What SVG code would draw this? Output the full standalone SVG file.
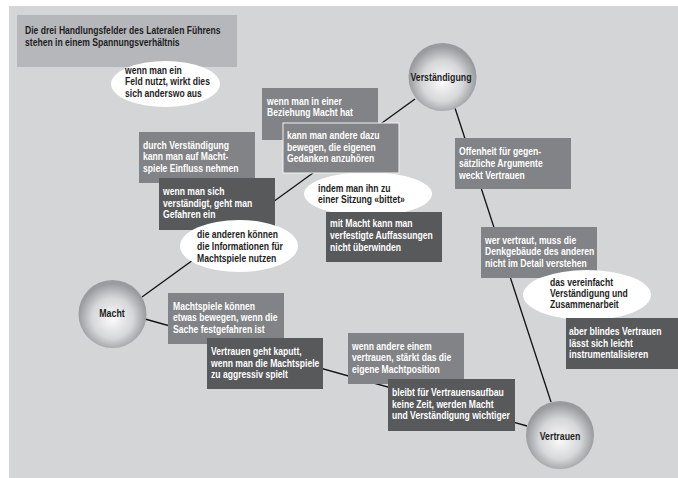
<svg xmlns="http://www.w3.org/2000/svg" width="678" height="478" viewBox="0 0 678 478">
<defs>
<radialGradient id="sph" cx="0.5" cy="0.55" r="0.5" fx="0.5" fy="0.58">
<stop offset="0" stop-color="#fafafa"/>
<stop offset="0.6" stop-color="#d6d7d9"/>
<stop offset="1" stop-color="#9a9b9e"/>
</radialGradient>
</defs>
<style>
.t{font-family:"Liberation Sans",Arial,sans-serif;font-weight:bold;font-size:10px}
.w{fill:#ffffff}
.d{fill:#1e1e1e}
.m{fill:#828386}
.k{fill:#58595b}
.e{fill:#ffffff}
.s{fill:url(#sph)}
.lbl{font-family:"Liberation Sans",Arial,sans-serif;font-weight:bold;font-size:10.5px;fill:#1e1e1e;text-anchor:middle}
.c{stroke:#111;stroke-width:1.3;fill:none}
</style>
<rect x="9" y="6" width="669" height="472" fill="#d4d5d7"/>

<g id="connectors">
<line class="c" x1="142" y1="297" x2="415" y2="99"/>
<line class="c" x1="455" y1="108" x2="551" y2="402"/>
<line class="c" x1="145" y1="319" x2="527" y2="426"/>
</g>

<g id="title">
<rect x="17" y="15" width="220" height="52" fill="#b6b7ba"/>
<text class="t d" transform="translate(25,34) scale(0.86,1)"><tspan x="0" y="0">Die drei Handlungsfelder des Lateralen Führens</tspan><tspan x="0" y="12">stehen in einem Spannungsverhältnis</tspan></text>
</g>

<g id="note-feld">
<ellipse class="e" cx="165.5" cy="84" rx="54.5" ry="23"/>
<text class="t d" transform="translate(125,74) scale(0.86,1)"><tspan x="0" y="0">wenn man ein</tspan><tspan x="0" y="11.5">Feld nutzt, wirkt dies</tspan><tspan x="0" y="23">sich anderswo aus</tspan></text>
</g>

<g id="box-beziehung">
<rect class="m" x="262" y="88" width="116" height="52"/>
<text class="t w" transform="translate(267,105) scale(0.86,1)"><tspan x="0" y="0">wenn man in einer</tspan><tspan x="0" y="11.5">Beziehung Macht hat</tspan></text>
</g>

<g id="note-sitzung">
<ellipse class="e" cx="368" cy="194" rx="64" ry="22"/>
<text class="t d" transform="translate(318,191.7) scale(0.86,1)"><tspan x="0" y="0">indem man ihn zu</tspan><tspan x="0" y="11.3">einer Sitzung «bittet»</tspan></text>
</g>

<g id="box-bewegen">
<rect class="m" x="283" y="123" width="116" height="50" stroke="#f2f2f2" stroke-width="1"/>
<text class="t w" transform="translate(287,139) scale(0.86,1)"><tspan x="0" y="0">kann man andere dazu</tspan><tspan x="0" y="11.7">bewegen, die eigenen</tspan><tspan x="0" y="23.4">Gedanken anzuhören</tspan></text>
</g>

<g id="box-einfluss">
<rect class="m" x="139" y="132" width="116" height="51"/>
<text class="t w" transform="translate(143,149) scale(0.86,1)"><tspan x="0" y="0">durch Verständigung</tspan><tspan x="0" y="11.5">kann man auf Macht-</tspan><tspan x="0" y="23">spiele Einfluss nehmen</tspan></text>
</g>

<g id="box-gefahren">
<rect class="k" x="159" y="178" width="116" height="52"/>
<text class="t w" transform="translate(163,195) scale(0.86,1)"><tspan x="0" y="0">wenn man sich</tspan><tspan x="0" y="11.6">verständigt, geht man</tspan><tspan x="0" y="23">Gefahren ein</tspan></text>
</g>

<g id="note-informationen">
<ellipse class="e" cx="239" cy="246" rx="59" ry="26"/>
<text class="t d" transform="translate(197,238) scale(0.86,1)"><tspan x="0" y="0">die anderen können</tspan><tspan x="0" y="12">die Informationen für</tspan><tspan x="0" y="24">Machtspiele nutzen</tspan></text>
</g>

<g id="box-auffassungen">
<rect class="k" x="326" y="212" width="116" height="50"/>
<text class="t w" transform="translate(330,227) scale(0.86,1)"><tspan x="0" y="0">mit Macht kann man</tspan><tspan x="0" y="12">verfestigte Auffassungen</tspan><tspan x="0" y="24">nicht überwinden</tspan></text>
</g>

<g id="box-offenheit">
<rect class="m" x="455" y="138" width="116" height="51"/>
<text class="t w" transform="translate(459,155) scale(0.86,1)"><tspan x="0" y="0">Offenheit für gegen-</tspan><tspan x="0" y="12">sätzliche Argumente</tspan><tspan x="0" y="24">weckt Vertrauen</tspan></text>
</g>

<g id="box-denkgebaeude">
<rect class="m" x="481" y="227" width="116" height="51"/>
<text class="t w" transform="translate(485,243.5) scale(0.86,1)"><tspan x="0" y="0">wer vertraut, muss die</tspan><tspan x="0" y="12">Denkgebäude des anderen</tspan><tspan x="0" y="24">nicht im Detail verstehen</tspan></text>
</g>

<g id="note-vereinfacht">
<ellipse class="e" cx="587" cy="295" rx="64" ry="25"/>
<text class="t d" transform="translate(550,285.7) scale(0.86,1)"><tspan x="0" y="0">das vereinfacht</tspan><tspan x="0" y="11.4">Verständigung und</tspan><tspan x="0" y="22.8">Zusammenarbeit</tspan></text>
</g>

<g id="box-blind">
<rect class="k" x="566" y="318" width="112" height="51"/>
<text class="t w" transform="translate(569,335) scale(0.86,1)"><tspan x="0" y="0">aber blindes Vertrauen</tspan><tspan x="0" y="11.6">lässt sich leicht</tspan><tspan x="0" y="23">instrumentalisieren</tspan></text>
</g>

<g id="box-festgefahren">
<rect class="m" x="168" y="293" width="116" height="51"/>
<text class="t w" transform="translate(173,309.5) scale(0.86,1)"><tspan x="0" y="0">Machtspiele können</tspan><tspan x="0" y="12">etwas bewegen, wenn die</tspan><tspan x="0" y="24">Sache festgefahren ist</tspan></text>
</g>

<g id="box-kaputt">
<rect class="k" x="207" y="338" width="116" height="51"/>
<text class="t w" transform="translate(211,355) scale(0.86,1)"><tspan x="0" y="0">Vertrauen geht kaputt,</tspan><tspan x="0" y="11.6">wenn man die Machtspiele</tspan><tspan x="0" y="23.2">zu aggressiv spielt</tspan></text>
</g>

<g id="box-machtposition">
<rect class="m" x="348" y="333" width="116" height="51"/>
<text class="t w" transform="translate(352,349.5) scale(0.86,1)"><tspan x="0" y="0">wenn andere einem</tspan><tspan x="0" y="12">vertrauen, stärkt das die</tspan><tspan x="0" y="24">eigene Machtposition</tspan></text>
</g>

<g id="box-keinezeit">
<rect class="k" x="388" y="379" width="127" height="52"/>
<text class="t w" transform="translate(392,396) scale(0.86,1)"><tspan x="0" y="0">bleibt für Vertrauensaufbau</tspan><tspan x="0" y="11.6">keine Zeit, werden Macht</tspan><tspan x="0" y="23.2">und Verständigung wichtiger</tspan></text>
</g>

<g id="node-verstaendigung">
<circle class="s" cx="442.5" cy="77" r="34"/>
<text class="lbl" transform="translate(441,80.5) scale(0.84,1)">Verständigung</text>
</g>

<g id="node-macht">
<circle class="s" cx="112.5" cy="314" r="34"/>
<text class="lbl" transform="translate(112,317) scale(0.84,1)">Macht</text>
</g>

<g id="node-vertrauen">
<circle class="s" cx="560" cy="435" r="34"/>
<text class="lbl" transform="translate(560,440) scale(0.84,1)">Vertrauen</text>
</g>
</svg>
